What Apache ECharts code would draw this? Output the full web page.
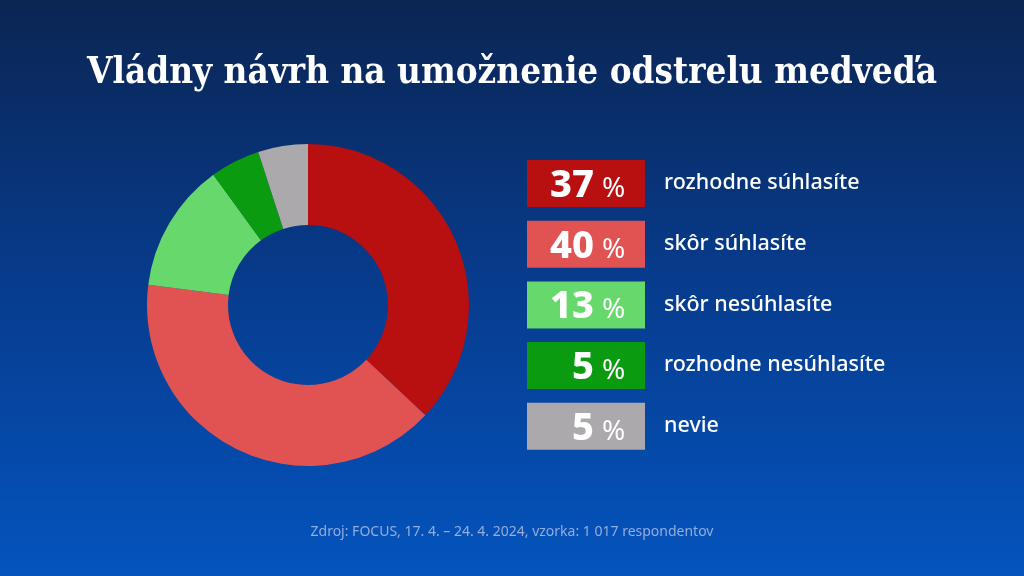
<!DOCTYPE html>
<html><head><meta charset="utf-8">
<script src="https://cdn.jsdelivr.net/npm/echarts@6/dist/echarts.min.js"></script>
<style>html,body{margin:0;padding:0;}#c{width:1024px;height:576px;}</style>
</head><body><div id="c"></div>
<script>
var titleText = 'Vládny návrh na umožnenie odstrelu medveďa';
var sourceText = 'Zdroj: FOCUS, 17. 4. – 24. 4. 2024, vzorka: 1 017 respondentov';
var categories = ['rozhodne súhlasíte', 'skôr súhlasíte', 'skôr nesúhlasíte', 'rozhodne nesúhlasíte', 'nevie'];
var values = [37, 40, 13, 5, 5];
var colors = ['#B80F11', '#E15252', '#67D86C', '#0B9B10', '#ABA9AB'];

var chart = echarts.init(document.getElementById('c'));
var graphics = [];
categories.forEach(function (name, i) {
  var y = 160 + i * 60.7;
  graphics.push({ type: 'rect', left: 527, top: y, shape: { width: 118, height: 47 }, style: { fill: colors[i] } });
  graphics.push({ type: 'text', x: 594, y: y + 26, style: { text: String(values[i]), fill: '#fff', font: '800 38px "Noto Sans", sans-serif', textAlign: 'right', textVerticalAlign: 'middle' } });
  graphics.push({ type: 'text', x: 602, y: y + 29, style: { text: '%', fill: '#fff', font: '28px "Noto Sans", sans-serif', textAlign: 'left', textVerticalAlign: 'middle' } });
  graphics.push({ type: 'text', x: 664, y: y + 23, style: { text: name, fill: '#fff', font: '500 21.5px "Noto Sans", sans-serif', textAlign: 'left', textVerticalAlign: 'middle' } });
});

chart.setOption({
  backgroundColor: new echarts.graphic.LinearGradient(0, 0, 0, 1, [
    { offset: 0, color: '#0B2553' },
    { offset: 0.5, color: '#073C8E' },
    { offset: 1, color: '#0454BE' }
  ]),
  title: [{
    text: titleText, left: 'center', top: 50,
    textStyle: { color: '#fff', fontFamily: '"DejaVu Serif Condensed", "DejaVu Serif", serif', fontWeight: 'bold', fontSize: 36.5 }
  }, {
    text: sourceText, left: 'center', top: 520,
    textStyle: { color: '#93AEDC', fontFamily: '"Noto Sans", sans-serif', fontWeight: 'normal', fontSize: 14 }
  }],
  series: [{
    type: 'pie',
    center: [308, 305],
    radius: [80, 161],
    startAngle: 90,
    clockwise: true,
    label: { show: false },
    labelLine: { show: false },
    silent: true,
    animation: false,
    data: categories.map(function (n, i) { return { name: n, value: values[i], itemStyle: { color: colors[i] } }; })
  }],
  graphic: graphics,
  animation: false
});
</script></body></html>
